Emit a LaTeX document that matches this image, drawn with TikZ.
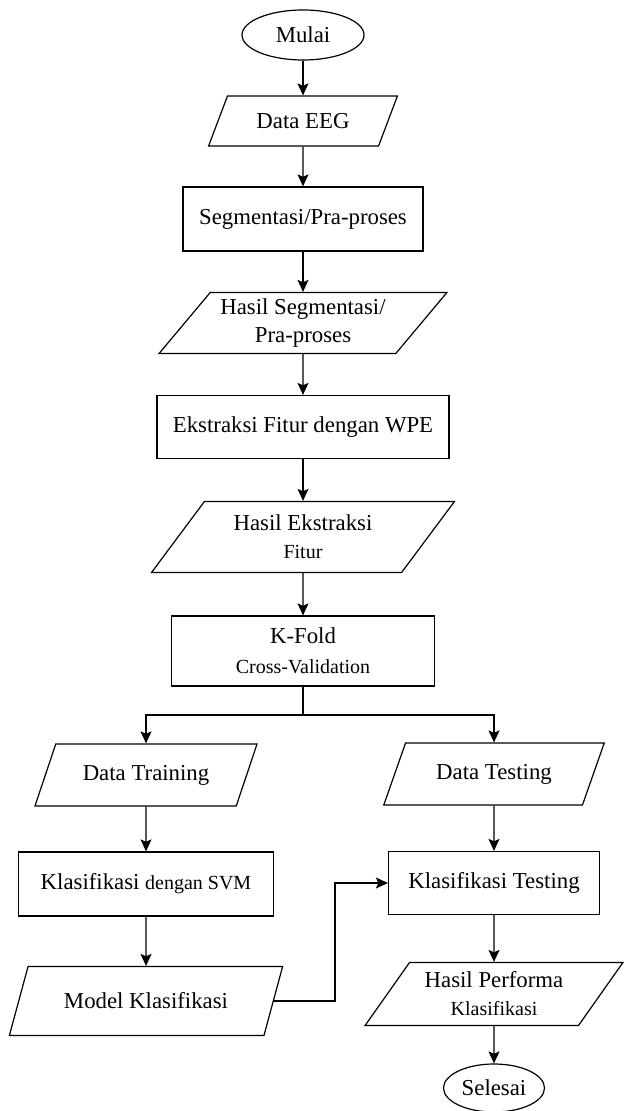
\documentclass[tikz,border=0pt]{standalone}
\usepackage{fontspec}
\setmainfont{Liberation Serif}
\usetikzlibrary{shapes.geometric,arrows.meta}
\newcommand{\kecil}{\fontsize{10}{12}\selectfont}
\begin{document}
\begin{tikzpicture}
[x=0.5pt,y=-0.5pt,
  termdecorate/.style={shape=ellipse,draw,line width=0.6pt,inner sep=0pt},%
  boxdecorate/.style={shape=rectangle,draw,line width=0.6pt,inner sep=0pt,align=center},%
  datadecorate/.style={shape=trapezium,trapezium stretches=true,draw,line width=0.6pt,inner sep=0pt,align=center},%
  linedecorate/.style={-{Stealth[length=6pt,width=5.5pt,inset=1.2pt]},line width=0.6pt},%
  font=\fontsize{11.4}{14}\selectfont]
\useasboundingbox (0,0) rectangle (623,1111);
%% start and end
\foreach \nodename/\x/\y/\w/\h/\txt in {mulai/303/35/122/50/Mulai,
  selesai/494/1088/101/48/Selesai} {
  \node (\nodename) at (\x,\y) [termdecorate,minimum width=\w*0.5pt,minimum height=\h*0.5pt] {\txt};
}
%% process boxes
\foreach \nodename/\x/\y/\w/\h/\txt in {segmen/303/219/240/64/{Segmentasi/Pra-proses},
  ekstraksi/303/427/292/63/{Ekstraksi Fitur dengan WPE},
  kfold/303/651/263/70/{K-Fold\\[1pt]{\kecil Cross-Validation}},
  svm/146/884/255/64/{Klasifikasi {\kecil dengan SVM}},
  klastest/494/883/211/63/{Klasifikasi Testing}} {
  \node (\nodename) at (\x,\y) [boxdecorate,minimum width=\w*0.5pt,minimum height=\h*0.5pt] {\txt};
}
%% data (input/output)
\foreach \nodename/\x/\y/\w/\h/\a/\txt in {dataeeg/303/121/190/50/52.8/{Data EEG},
  hasilseg/303/323/288/61/46.9/{Hasil Segmentasi/\\Pra-proses},
  hasilfitur/303/537/303/71/49.8/{Hasil Ekstraksi\\{\kecil Fitur}},
  train/146/775/223/62/54/{Data Training},
  test/494/774/222/62/54.6/{Data Testing},
  model/146/1001/274/69/51.4/{Model Klasifikasi},
  performa/494/994/258/63/50.5/{Hasil Performa\\{\kecil Klasifikasi}}} {
  \node (\nodename) at (\x,\y) [datadecorate,trapezium left angle=\a,trapezium right angle=180-\a,
    minimum width=\w*0.5pt,minimum height=\h*0.5pt] {\txt};
}
%% straight arrows
\path
\foreach \startnode/\endnode in {mulai/dataeeg, dataeeg/segmen, segmen/hasilseg,
  hasilseg/ekstraksi, ekstraksi/hasilfitur, hasilfitur/kfold, train/svm, svm/model,
  test/klastest, klastest/performa, performa/selesai} {
  (\startnode) edge[linedecorate] (\endnode)
};
%% branching
\coordinate (split) at (303,715);
\coordinate (belok) at (335,1001);
\draw[line width=0.6pt] (kfold.south) -- (split);
\draw[linedecorate] (split) -| (train.north);
\draw[linedecorate] (split) -| (test.north);
\draw[linedecorate] (model.right side) -- (belok) |- (klastest.west);
\end{tikzpicture}
\end{document}
